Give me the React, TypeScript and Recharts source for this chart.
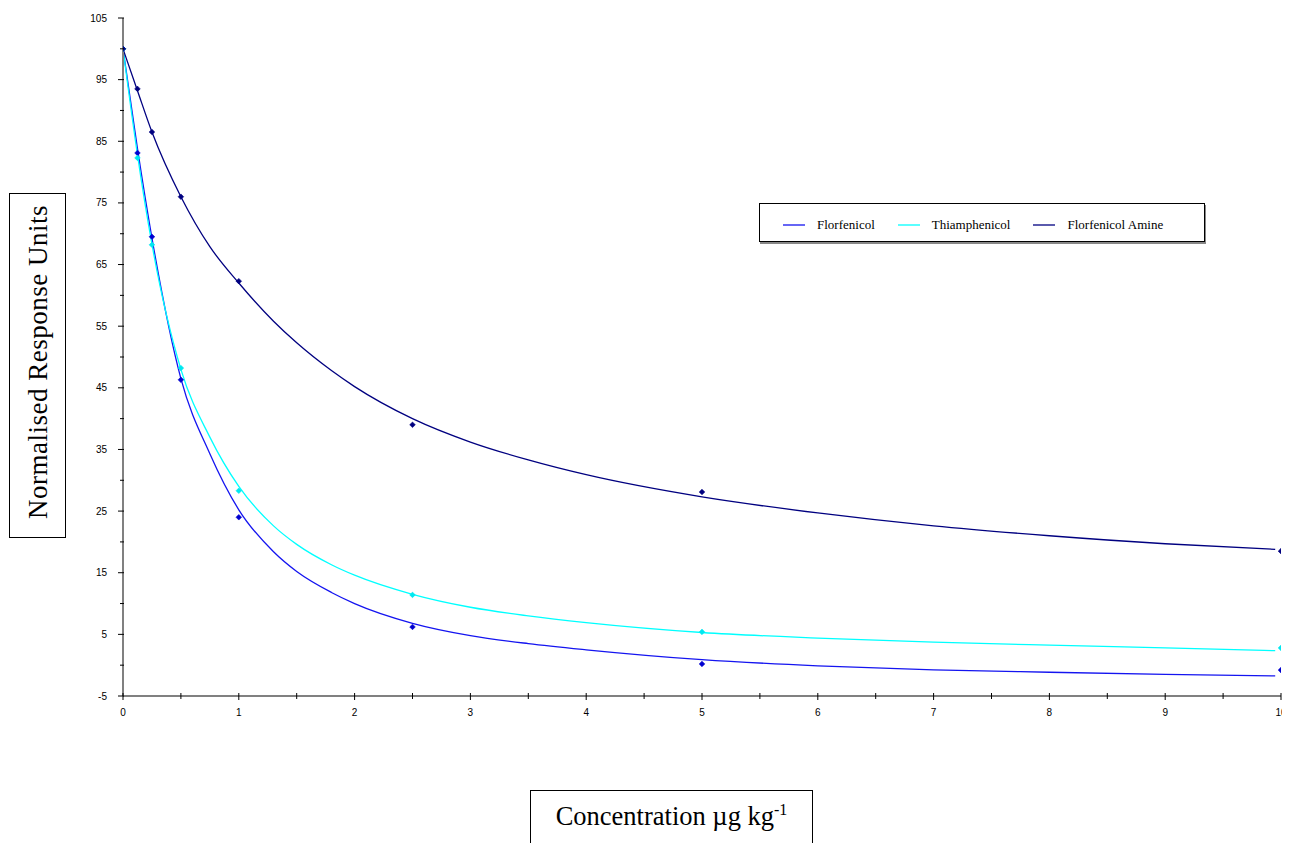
import React from "react";
import { ComposedChart, Line, Scatter, XAxis, YAxis } from "recharts";

// Measured concentrations (µg/kg)
const CONC = [0, 0.125, 0.25, 0.5, 1, 2.5, 5, 10];
const FLOR_PTS = [100, 83.1, 69.5, 46.3, 24.0, 6.2, 0.2, -0.8];
const THIA_PTS = [100, 82.3, 68.2, 48.2, 28.3, 11.4, 5.4, 2.8];
const AMINE_PTS = [100, 93.5, 86.5, 76.0, 62.3, 39.0, 28.1, 18.5];

// Fitted curves
const FIT_X = [0, 0.125, 0.25, 0.5, 0.75, 1, 1.3, 1.5, 1.8, 2, 2.5, 3, 3.5, 4, 5, 6, 7, 8, 9, 9.95];
const FLOR_FIT = [100, 83.8, 69.3, 46.5, 34.3, 25.2, 18.4, 15.2, 11.8, 10.0, 6.8, 4.8, 3.5, 2.5, 0.9, -0.1, -0.75, -1.15, -1.5, -1.75];
const THIA_FIT = [100, 82.8, 68.3, 48.0, 37.0, 29.0, 22.6, 19.6, 16.3, 14.6, 11.5, 9.4, 8.0, 6.9, 5.3, 4.4, 3.75, 3.25, 2.8, 2.35];
const AMINE_FIT = [100, 93.2, 86.5, 76.0, 67.9, 62.0, 55.8, 52.3, 47.8, 45.2, 40.0, 36.2, 33.3, 30.9, 27.3, 24.7, 22.6, 21.0, 19.7, 18.8];

const X_TICKS = [0, 0.5, 1, 1.5, 2, 2.5, 3, 3.5, 4, 4.5, 5, 5.5, 6, 6.5, 7, 7.5, 8, 8.5, 9, 9.5, 10];
const Y_TICKS = [-5, 0, 5, 10, 15, 20, 25, 30, 35, 40, 45, 50, 55, 60, 65, 70, 75, 80, 85, 90, 95, 100, 105];

const SERIES = [
  { name: "Florfenicol", color: "#1414f0", marker: "#0000d0", pts: FLOR_PTS, fit: FLOR_FIT },
  { name: "Thiamphenicol", color: "#00ffff", marker: "#00e8f0", pts: THIA_PTS, fit: THIA_FIT },
  { name: "Florfenicol Amine", color: "#000080", marker: "#000080", pts: AMINE_PTS, fit: AMINE_FIT },
];

const SERIF = "'Liberation Serif', 'Times New Roman', serif";
const SANS = "'Liberation Sans', Arial, sans-serif";

const XTick = (props: any) => {
  const { x, y, payload } = props;
  const v = payload.value;
  const major = Number.isInteger(v);
  return (
    <g>
      <line x1={x} x2={x} y1={y - 3} y2={y + (major ? 4 : 3)} stroke="#000" strokeWidth={1} />
      {major && (
        <text x={x} y={y + 20} textAnchor="middle" fontSize={10} fontFamily={SANS} fill="#000">
          {v}
        </text>
      )}
    </g>
  );
};

const YTick = (props: any) => {
  const { x, y, payload } = props;
  const v = payload.value;
  const major = (v + 5) % 10 === 0;
  return (
    <g>
      <line x1={x - (major ? 5 : 3)} x2={x + 1} y1={y} y2={y} stroke="#000" strokeWidth={1} />
      {major && (
        <text x={x - 16} y={y + 3.5} textAnchor="end" fontSize={10} fontFamily={SANS} fill="#000">
          {v}
        </text>
      )}
    </g>
  );
};

const makeMarker = (color: string) => (props: any) => {
  const { cx, cy } = props;
  if (cx == null || cy == null) return <g />;
  const r = 2.8;
  return (
    <path
      d={`M${cx},${cy - r} L${cx + r},${cy} L${cx},${cy + r} L${cx - r},${cy} Z`}
      fill={color}
      stroke={color}
      strokeWidth={0.6}
    />
  );
};

export default function App() {
  const fits = SERIES.map((s) => FIT_X.map((x, i) => ({ x, y: s.fit[i] })));
  const pts = SERIES.map((s) => CONC.map((x, i) => ({ x, y: s.pts[i] })));

  return (
    <div style={{ position: "relative", width: 1282, height: 835, overflow: "hidden", background: "#fff" }}>
      <style>{`html, body { overflow: hidden; }`}</style>
      <ComposedChart width={1282} height={835} margin={{ top: 10, right: 9, bottom: 117, left: 0 }} style={{ overflow: "visible" }}>
        <XAxis
          dataKey="x"
          type="number"
          domain={[0, 10]}
          ticks={X_TICKS}
          interval={0}
          tick={<XTick />}
          tickLine={false}
          tickSize={0}
          tickMargin={0}
          height={30}
          axisLine={{ stroke: "#808080", strokeWidth: 2 }}
          allowDataOverflow
        />
        <YAxis
          type="number"
          domain={[-5, 105]}
          ticks={Y_TICKS}
          interval={0}
          tick={<YTick />}
          tickLine={false}
          tickSize={0}
          tickMargin={0}
          width={115}
          axisLine={{ stroke: "#808080", strokeWidth: 2 }}
          allowDataOverflow
        />
        {SERIES.map((s, i) => (
          <Line
            key={"fit" + i}
            data={fits[i]}
            dataKey="y"
            name={s.name}
            type="monotone"
            stroke={s.color}
            strokeWidth={1.3}
            dot={false}
            activeDot={false}
            isAnimationActive={false}
          />
        ))}
        {SERIES.map((s, i) => (
          <Scatter
            key={"pts" + i}
            data={pts[i]}
            dataKey="y"
            name={s.name + " data"}
            fill={s.marker}
            shape={makeMarker(s.marker)}
            legendType="none"
            isAnimationActive={false}
          />
        ))}
      </ComposedChart>

      {/* Legend */}
      <div
        style={{
          position: "absolute",
          left: 751,
          top: 195,
          width: 444,
          height: 37,
          border: "1px solid #000",
          boxShadow: "1px 2px 0 #888",
          background: "#fff",
          display: "flex",
          alignItems: "center",
          fontFamily: SERIF,
          fontSize: 13,
          color: "#000",
          boxSizing: "content-box",
        }}
      >
        {SERIES.map((s) => (
          <div key={s.name} style={{ display: "flex", alignItems: "center", marginLeft: 23, marginTop: 5 }}>
            <svg width={22} height={4} style={{ marginRight: 12, display: "block" }}>
              <line x1={0} x2={22} y1={2} y2={2} stroke={s.color} strokeWidth={1.3} />
            </svg>
            <span style={{ whiteSpace: "nowrap" }}>{s.name}</span>
          </div>
        ))}
      </div>

      {/* Y axis title */}
      <div
        style={{
          position: "absolute",
          left: 1,
          top: 185,
          width: 55,
          height: 343,
          border: "1px solid #000",
        }}
      >
        <div
          style={{
            position: "absolute",
            left: "50%",
            top: "50%",
            transform: "translate(-50%, -50%) translate(0px, -4px) rotate(-90deg)",
            whiteSpace: "nowrap",
            fontFamily: SERIF,
            fontSize: 27,
            letterSpacing: 0.5,
            color: "#000",
          }}
        >
          Normalised Response Units
        </div>
      </div>

      {/* X axis title */}
      <div
        style={{
          position: "absolute",
          left: 522,
          top: 782,
          width: 281,
          height: 80,
          border: "1px solid #000",
          fontFamily: SERIF,
          fontSize: 26.5,
          color: "#000",
          textAlign: "center",
        }}
      >
        <div style={{ marginTop: 10, whiteSpace: "nowrap" }}>
          Concentration µg kg<sup style={{ fontSize: 16 }}>-1</sup>
        </div>
      </div>
    </div>
  );
}
